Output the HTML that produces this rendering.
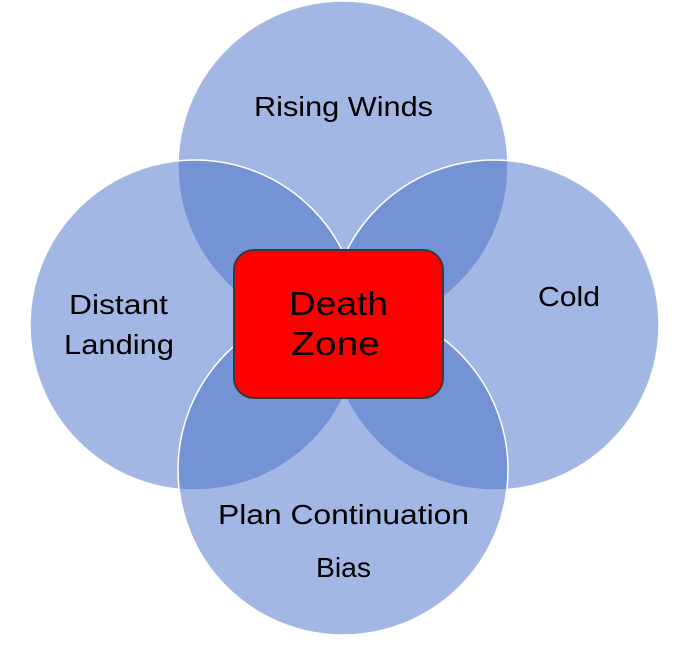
<!DOCTYPE html>
<html><head><style>
html,body{margin:0;padding:0;background:#fff;}
svg{display:block;}
text{font-family:"Liberation Sans",sans-serif;fill:#000;}
</style></head><body>
<svg width="688" height="649" viewBox="0 0 688 649">
<g fill="#4670c8" fill-opacity="0.5" stroke="#fff" stroke-width="1.5">
<circle cx="343" cy="166" r="165"/>
<circle cx="195" cy="325" r="165"/>
<circle cx="494" cy="325" r="165"/>
<circle cx="343" cy="470" r="165"/>
</g>
<rect x="234" y="250" width="209" height="148" rx="20" ry="20" fill="#ff0000" stroke="#3a3a3a" stroke-width="2"/>
<text x="289" y="315" font-size="33" textLength="99" lengthAdjust="spacingAndGlyphs">Death</text>
<text x="291" y="355" font-size="33" textLength="89" lengthAdjust="spacingAndGlyphs">Zone</text>
<text x="254" y="116" font-size="28" textLength="179" lengthAdjust="spacingAndGlyphs">Rising Winds</text>
<text x="538" y="306" font-size="28" textLength="62" lengthAdjust="spacingAndGlyphs">Cold</text>
<text x="69" y="314" font-size="28" textLength="99" lengthAdjust="spacingAndGlyphs">Distant</text>
<text x="64" y="354" font-size="28" textLength="110" lengthAdjust="spacingAndGlyphs">Landing</text>
<text x="218" y="524" font-size="28" textLength="251" lengthAdjust="spacingAndGlyphs">Plan Continuation</text>
<text x="316" y="577" font-size="28" textLength="55" lengthAdjust="spacingAndGlyphs">Bias</text>
</svg>
</body></html>
